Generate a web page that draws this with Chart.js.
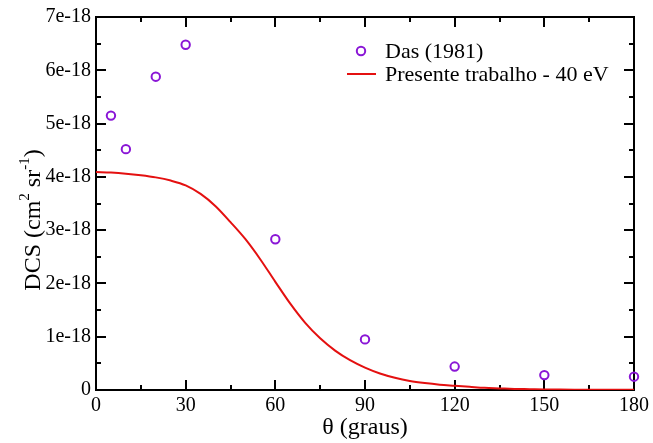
<!DOCTYPE html>
<html><head><meta charset="utf-8">
<script src="https://cdn.jsdelivr.net/npm/chart.js@4/dist/chart.umd.min.js"></script>
<style>html,body{margin:0;padding:0;background:#fff}</style>
</head><body>
<canvas id="c" width="653" height="443" style="width:653px;height:443px;display:block"></canvas>
<script>
// ---- data ----
const dasAngles = [5, 10, 20, 30, 60, 90, 120, 150, 180];
const dasDCS = [5.15e-18, 4.52e-18, 5.88e-18, 6.48e-18, 2.83e-18, 0.95e-18, 0.44e-18, 0.28e-18, 0.25e-18];
const theoryAngles = [0,5,10,15,20,25,30,35,40,45,50,55,60,65,70,75,80,85,90,95,100,105,110,115,120,125,130,135,140,145,150,155,160,165,170,175,180];
const theoryDCS = [4.09e-18,4.08e-18,4.06e-18,4.03e-18,3.99e-18,3.93e-18,3.84e-18,3.68e-18,3.45e-18,3.15e-18,2.83e-18,2.45e-18,2.03e-18,1.62e-18,1.26e-18,0.97e-18,0.74e-18,0.56e-18,0.42e-18,0.31e-18,0.23e-18,0.17e-18,0.13e-18,0.10e-18,0.08e-18,0.06e-18,0.04e-18,0.03e-18,0.02e-18,0.015e-18,0.01e-18,0.008e-18,0.006e-18,0.005e-18,0.005e-18,0.005e-18,0.005e-18];
const xMajorTicks = [0, 30, 60, 90, 120, 150, 180];
const xMinorTicks = [15, 45, 75, 105, 135, 165];
const yMajorTicks = [0, 1e-18, 2e-18, 3e-18, 4e-18, 5e-18, 6e-18, 7e-18];
const yMinorTicks = [0.5e-18, 1.5e-18, 2.5e-18, 3.5e-18, 4.5e-18, 5.5e-18, 6.5e-18];
const seriesLabels = ['Das (1981)', 'Presente trabalho - 40 eV'];
const xTitle = 'θ (graus)';

const SERIF = '"Liberation Serif", "Times New Roman", serif';
const PURPLE = '#8a16d6';
const RED = '#e41010';

const framePlugin = {
  id: 'frame',
  beforeDatasetsDraw(chart) {
    const {ctx, chartArea: a, scales: {x, y}} = chart;
    ctx.save();
    ctx.strokeStyle = '#000';
    ctx.lineWidth = 2;
    ctx.beginPath();
    // ticks inward on all four sides
    const tick = (v, len, horiz) => {
      if (horiz) {
        const px = Math.round(x.getPixelForValue(v));
        ctx.moveTo(px, a.bottom); ctx.lineTo(px, a.bottom - len);
        ctx.moveTo(px, a.top); ctx.lineTo(px, a.top + len);
      } else {
        const py = Math.round(y.getPixelForValue(v));
        ctx.moveTo(a.left, py); ctx.lineTo(a.left + len, py);
        ctx.moveTo(a.right, py); ctx.lineTo(a.right - len, py);
      }
    };
    xMajorTicks.forEach(v => tick(v, 10, true));
    xMinorTicks.forEach(v => tick(v, 5, true));
    yMajorTicks.forEach(v => tick(v, 10, false));
    yMinorTicks.forEach(v => tick(v, 5, false));
    ctx.stroke();
    ctx.strokeRect(a.left, a.top, a.right - a.left, a.bottom - a.top);
    ctx.restore();
  },
  afterDraw(chart) {
    const {ctx} = chart;
    ctx.save();
    // legend
    ctx.fillStyle = '#000';
    ctx.font = '22px ' + SERIF;
    ctx.textBaseline = 'middle';
    ctx.textAlign = 'left';
    ctx.strokeStyle = PURPLE;
    ctx.lineWidth = 2;
    ctx.beginPath(); ctx.arc(361, 51, 4.2, 0, Math.PI * 2); ctx.stroke();
    ctx.fillText(seriesLabels[0], 385, 52);
    ctx.strokeStyle = RED;
    ctx.beginPath(); ctx.moveTo(347, 74); ctx.lineTo(376, 74); ctx.stroke();
    ctx.fillText(seriesLabels[1], 385, 75);
    // y title with superscripts
    ctx.translate(40, 220);
    ctx.rotate(-Math.PI / 2);
    ctx.textBaseline = 'alphabetic';
    const parts = [
      ['DCS (cm', 24, 0], ['2', 15, -11], [' sr', 24, 0], ['-1', 15, -11], [')', 24, 0]
    ];
    let total = 0;
    parts.forEach(p => { ctx.font = p[1] + 'px ' + SERIF; total += ctx.measureText(p[0]).width; });
    let cx = -total / 2;
    parts.forEach(p => {
      ctx.font = p[1] + 'px ' + SERIF;
      ctx.fillText(p[0], cx, p[2]);
      cx += ctx.measureText(p[0]).width;
    });
    ctx.restore();
  }
};

new Chart(document.getElementById('c'), {
  type: 'scatter',
  data: {
    datasets: [
      {
        label: seriesLabels[0],
        data: dasAngles.map((a, i) => ({x: a, y: dasDCS[i]})),
        showLine: false,
        pointStyle: 'circle',
        pointRadius: 4.2,
        pointBorderWidth: 2,
        pointBorderColor: PURPLE,
        pointBackgroundColor: 'rgba(0,0,0,0)',
        clip: false,
        order: 0
      },
      {
        label: seriesLabels[1],
        data: theoryAngles.map((a, i) => ({x: a, y: theoryDCS[i]})),
        showLine: true,
        borderColor: RED,
        borderWidth: 2,
        pointRadius: 0,
        cubicInterpolationMode: 'monotone',
        order: 1
      }
    ]
  },
  options: {
    responsive: false,
    animation: false,
    devicePixelRatio: 1,
    layout: {padding: {top: 8, right: 19, left: 0, bottom: 0}},
    plugins: {legend: {display: false}, tooltip: {enabled: false}},
    scales: {
      x: {
        type: 'linear', min: 0, max: 180,
        afterBuildTicks: s => { s.ticks = xMajorTicks.map(v => ({value: v})); },
        afterFit: s => { s.height = 53; },
        grid: {display: false, drawTicks: false},
        border: {display: false},
        ticks: {color: '#000', font: {family: SERIF, size: 20}, padding: 4, maxRotation: 0, autoSkip: false},
        title: {display: true, text: xTitle, color: '#000', font: {family: SERIF, size: 24}, padding: {top: 0, bottom: 1}}
      },
      y: {
        type: 'linear', min: 0, max: 7e-18,
        afterBuildTicks: s => { s.ticks = yMajorTicks.map(v => ({value: v})); },
        afterFit: s => { s.width = 96; },
        grid: {display: false, drawTicks: false},
        border: {display: false},
        ticks: {
          color: '#000', font: {family: SERIF, size: 20}, padding: 5, autoSkip: false,
          callback: v => v === 0 ? '0' : Math.round(v * 1e18) + 'e-18'
        },
        title: {display: false}
      }
    }
  },
  plugins: [framePlugin]
});
</script>
</body></html>
